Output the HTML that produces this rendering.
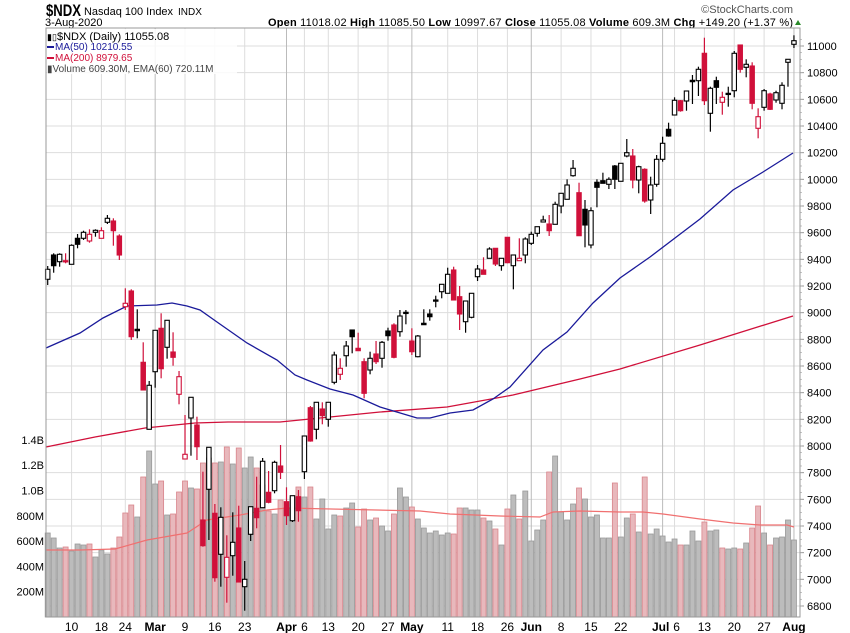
<!DOCTYPE html>
<html><head><meta charset="utf-8"><style>
body{margin:0;background:#fff;width:850px;height:633px;overflow:hidden}
svg{display:block}
text{font-family:"Liberation Sans",sans-serif}
</style></head><body>
<svg id="s" width="850" height="633" xmlns="http://www.w3.org/2000/svg">
<rect width="850" height="633" fill="#fff"/>
<text x="46" y="16" font-size="17" font-weight="bold" textLength="35" lengthAdjust="spacingAndGlyphs">$NDX</text>
<text x="84" y="15" font-size="11" textLength="89" lengthAdjust="spacingAndGlyphs">Nasdaq 100 Index</text>
<text x="178" y="15" font-size="10">INDX</text>
<text x="45" y="26" font-size="11">3-Aug-2020</text>
<text x="793" y="26" font-size="11" text-anchor="end" textLength="525" lengthAdjust="spacing"><tspan font-weight="bold">Open</tspan> 11018.02 <tspan font-weight="bold">High</tspan> 11085.50 <tspan font-weight="bold">Low</tspan> 10997.67 <tspan font-weight="bold">Close</tspan> 11055.08 <tspan font-weight="bold">Volume</tspan> 609.3M <tspan font-weight="bold">Chg</tspan> +149.20 (+1.37 %)</text>
<polygon points="795,25 801,25 798,20" fill="#2a8a2a"/>
<text x="793" y="13" font-size="11" fill="#555" text-anchor="end">©StockCharts.com</text>
<g id="g"></g>
</svg>
<script>
const NS="http://www.w3.org/2000/svg";const G=document.getElementById('g');
function el(t,a,txt){const e=document.createElementNS(NS,t);for(const k in a)e.setAttribute(k,a[k]);if(txt!==undefined)e.textContent=txt;G.appendChild(e);return e;}
const L=46,R=800,T=28,B=617;
const X=i=>47.7+5.97*i;
const Y=p=>46+(11000-p)*0.13333;
for(let p=6800;p<=11000;p+=200){const y=Y(p);el('line',{x1:L,x2:R,y1:y,y2:y,stroke:'#ddd','stroke-width':1});
el('text',{x:807,y:y+4,'font-size':11},String(p));el('line',{x1:R,x2:R+4,y1:y,y2:y,stroke:'#999'});}
for(let p=6800;p<=11050;p+=50){const y=Y(p);if(y>T&&y<B)el('line',{x1:R,x2:R+2,y1:y,y2:y,stroke:'#aaa','stroke-width':0.7});}
const labs=[[4,'10'],[9,'18'],[13,'24'],[18,'Mar',1],[23,'9'],[28,'16'],[33,'23'],[40,'Apr',1],[43,'6'],[47,'13'],[52,'20'],[57,'27'],[61,'May',1],[67,'11'],[72,'18'],[77,'26'],[81,'Jun',1],[86,'8'],[91,'15'],[96,'22'],[103,'Jul',1],[105,'6'],[110,'13'],[115,'20'],[120,'27'],[125,'Aug',1]];
labs.forEach(([i,t,m])=>{const x=X(i);el('line',{x1:x,x2:x,y1:T,y2:B,stroke:m?'#bbb':'#ddd','stroke-width':1});
let tx=x;if(t==='Jul')tx=x-2;if(t==='6'&&i==105)tx=x+2;
el('text',{x:tx,y:631,'font-size':12,'text-anchor':'middle','font-weight':m?'bold':'normal'},t);});
[[1.4,'1.4B'],[1.2,'1.2B'],[1.0,'1.0B'],[0.8,'800M'],[0.6,'600M'],[0.4,'400M'],[0.2,'200M']].forEach(([v,t])=>{const y=617-v*126.5;el('text',{x:44,y:y+4,'font-size':11,'text-anchor':'end'},t);});
const vs="g533,g538,g548,r547,g551,g544,g545,r544,g557,g550,g554,r548,r537,r513,r505,g517,r477,g451,g484,r481,g515,r514,r492,r481,g488,r489,r463,g458,r463,g462,r447,g464,r448,g468,g457,r468,g485,r511,g514,r500,g508,g497,r487,g497,r487,g519,g499,g529,g515,r516,g508,g503,r527,r509,g520,r518,g526,g531,r514,g488,g497,r507,g519,g528,g533,g531,g535,g533,r534,r508,g508,g510,g510,r518,g521,r529,g545,r509,g495,r519,g491,g541,g530,g520,r472,g456,g512,g520,g504,r488,g499,g517,g515,g538,g538,r483,g537,g518,r514,g532,r477,g534,g529,g536,g542,g539,r545,g545,g531,g541,r522,g531,g530,r548,g549,g548,r549,g543,r528,r506,g533,r545,g538,g537,g520,g540".split(',');
vs.forEach((s,i)=>{const y=+s.slice(1),r=s[0]==='r';el('rect',{x:X(i)-2.5,y:y,width:5,height:B-y,fill:r?'#e8b8bc':'#bcbcbc',stroke:r?'#d9858c':'#999','stroke-width':0.8});});
const ve=[[46,550],[80,550],[115,549],[147,540],[187,533],[207,520],[240,515],[267,510],[287,508],[420,511],[450,514],[500,516],[540,517],[553,512],[580,511],[620,512],[643,512],[663,514],[700,519],[733,523],[760,525],[787,525],[794,527]];
el('polyline',{points:ve.map(p=>p.join(',')).join(' '),fill:'none',stroke:'#f07070','stroke-width':1.2});
const m200=[[46,447],[95,437],[145,428],[195,423],[228,422],[280,422],[380,412],[447,407],[513,395],[580,379],[620,369],[700,345],[793,316]];
const m50=[[46,348],[80,333],[103,318],[127,306],[157,305],[172,303],[187,306],[200,310],[217,322],[247,343],[277,360],[295,375],[307,380],[330,389],[353,395],[380,407],[417,418],[430,418],[450,413],[473,410],[493,399],[510,387],[543,350],[567,332],[593,303],[620,278],[650,257],[675,238],[700,219],[733,190],[763,172],[793,153]];
el('polyline',{points:m200.map(p=>p.join(',')).join(' '),fill:'none',stroke:'#d0103a','stroke-width':1.3});
el('polyline',{points:m50.map(p=>p.join(',')).join(' '),fill:'none',stroke:'#1a1a9a','stroke-width':1.3});
const C=[[279.3,266,285,269.3],[255,253.3,272.7,265.7],[261.7,253.3,266.7,254.3],[260.7,253.3,263.3,260.7],[264.3,244.3,264.3,245.3],[238.3,234,248.3,244.3],[238.3,230.7,240,232.3],[241,229.3,242.7,234.3],[232.3,229.3,236.7,230.3],[238.3,227.3,238.3,230.7],[222.3,215,224,218.3],[221,218.3,245.7,230.7],[236,234.3,260,255],[306.7,288.3,310,303.3],[291,289.3,340,336.7],[329.3,309.3,338.3,330.7],[362.3,342.3,390,390],[429.3,381,429.3,385.3],[371.7,330.3,387.7,330.3],[328.3,313.3,378.3,368.7],[347.3,320.3,358.7,320.3],[352,332.3,365.7,357.3],[394.3,371,404.3,376.7],[459,415,459,454.3],[418,397.3,455.7,397.3],[425,416.7,460,446.7],[520,471.7,546.7,545.7],[489.3,447.3,540,447.3],[513.3,504,581.7,577.7],[554.3,507.3,586.7,517.3],[577.3,535.3,602.7,557.3],[555.7,512.3,575.7,542.3],[528,505.7,582,582],[586.7,561,610.7,579.3],[534.3,506.7,541,506.7],[508.3,476.7,528.3,517.7],[507.7,458,507.7,461.3],[492.3,471,503.3,502.3],[490.7,460.7,493.3,462.3],[466,445,479,472.3],[501.7,487.3,525,515.7],[520.7,495.7,522,495.7],[496.7,490,521.7,510.7],[471.7,436,479,436],[407.7,406,441.7,441],[429.3,402.3,439.3,402.3],[409,402.3,424.3,415.7],[419.3,402.3,426.7,402.3],[382.3,351.7,384.3,355],[374.3,358.3,380,368.3],[355.7,341,366.7,346],[330,330,353.3,336.7],[348.3,332.7,350.7,350.7],[361.7,358.3,398.3,393.3],[370,351.7,374.3,358.3],[354,341,364,361.7],[358.3,341,367.7,342.3],[331,327.7,340.7,335.7],[325,323.3,358.3,357.3],[331.7,310,336.7,316],[312.3,310,324.3,313.3],[341,328.3,355,351.7],[356.7,335,357.3,336],[323.3,309.3,325,324.7],[314,309.3,320.7,316.7],[300,295.7,307.3,300.7],[291.7,284.3,298.3,284.3],[293.3,267.7,293.3,274.3],[270,266.7,300,300],[296.7,286,330,314],[321.7,301,332.7,301],[317.3,293.3,318.3,293.3],[276.7,265,281,269],[270,257.3,274.3,274.3],[258.3,247.3,258.3,249],[248.3,248.3,266,264],[265.7,258.3,270.7,258.3],[237.3,237.3,263.3,262.7],[265.7,255,289.3,255],[260.7,238.3,260.7,258.3],[255,237.3,263.3,239],[243.3,231.7,245,234.3],[233.3,226.7,236.7,226.7],[222,215.7,222,220],[224,215,236,230.7],[224.3,201.7,224.3,204.3],[206,193.3,213.3,193.3],[199.3,179.3,199.3,185],[175.7,160,176.7,168.3],[192.7,182.7,235.7,235.7],[209.3,200,247.3,225],[245,207.3,248.3,210.7],[182.3,179.3,207.3,187.3],[180.7,172.7,183.3,183.3],[184.3,177.3,189,179.3],[166,165,189,179.3],[181.3,163.3,181.3,163.3],[156,139,157.3,152.7],[156,149,188.3,180],[180,165.7,193.3,166.7],[169.3,168.3,202.7,201],[200,176.7,214,185],[184.3,155,186.7,159.3],[159.3,136.7,161.7,143.3],[129.3,122.7,136.7,136],[115,97.3,115,100.3],[100.7,100,111.7,110.7],[101,91,110.7,91],[80.3,75,104,81.7],[80.7,66.7,96,69.3],[53.3,37.7,105,100.7],[113.3,86.7,131.7,88.3],[80.7,76.7,104,87.3],[102.3,91.7,114.7,97.3],[93.3,86.7,106.7,94.3],[90.7,51,97.3,53.3],[45,45,72.7,69.3],[67.3,59.3,77.3,64.3],[66,62.3,109.3,103.3],[128.3,108.3,138.3,116.7],[107.3,89,110.7,90.7],[94,92.7,110,109.3],[100,90.7,102.7,92.7],[103.3,82.3,109.3,85.3],[62.3,59,86.7,59.3],[44.3,35.3,48,40.7]];
C.forEach((c,i)=>{const [o,h,l,cl]=c;const x=X(i);const prev=i?C[i-1][3]:cl;
const red=cl>prev+0.01||i===3;const col=red?'#d0103a':'#000';const up=cl<o;
el('line',{x1:x,x2:x,y1:h,y2:l,stroke:col,'stroke-width':1.2});
const top=Math.min(o,cl),hh=Math.max(Math.abs(o-cl),1.2);
el('rect',{x:x-2.2,y:top,width:4.4,height:hh,fill:up?'#fff':col,stroke:col,'stroke-width':1.1});});
el('rect',{x:L,y:T,width:R-L,height:B-T,fill:'none',stroke:'#999','stroke-width':1});
el('rect',{x:47,y:29,width:190,height:45,fill:'#fff','fill-opacity':0.85});
el('text',{x:47,y:40,'font-size':9},'▮▯');
el('text',{x:57,y:40,'font-size':11},'$NDX (Daily) 11055.08');
el('rect',{x:47,y:46,width:7,height:2,fill:'#1a1a9a'});
el('text',{x:55,y:50,'font-size':10,fill:'#1a1a9a'},'MA(50) 10210.55');
el('rect',{x:47,y:57,width:7,height:2,fill:'#d0103a'});
el('text',{x:55,y:61,'font-size':10,fill:'#d0103a'},'MA(200) 8979.65');
el('text',{x:47,y:72,'font-size':10,fill:'#444'},'▮Volume 609.30M, EMA(60) 720.11M');
</script>
</body></html>
